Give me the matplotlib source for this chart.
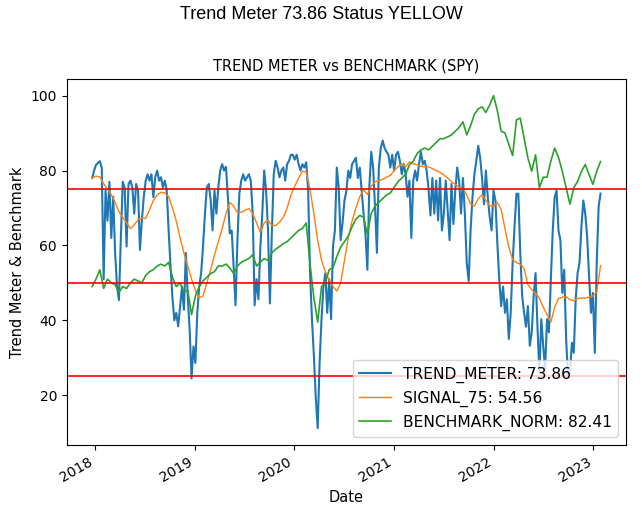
import matplotlib
matplotlib.use("Agg")
import matplotlib.pyplot as plt
import matplotlib.dates as mdates
import pandas as pd

# weekly dates (trend meter), every 2nd week for signal / benchmark
dates = pd.date_range("2017-12-22", periods=267, freq="7D")
dates2 = dates[::2]

trend_meter = [
    78, 80, 81.5, 82, 82.5, 80.8, 51, 74.7, 66.6, 77,
    62, 73, 58, 49, 45.4, 62, 77, 75.4, 59.7, 76.4,
    77.3, 75.5, 68.5, 76.4, 74.7, 58.8, 66.7, 72.9, 77.3, 79,
    77.3, 79, 72.9, 78.2, 80, 77.3, 78.2, 75.5, 77.3, 74.7,
    64, 54.4, 46, 40, 42, 38.4, 43.6, 49, 42.8, 58,
    46.5, 37.5, 24.5, 33, 28.6, 42, 49, 52.6, 59.7, 68.5,
    75.5, 76.4, 72, 64, 74.7, 68.5, 75.5, 80, 81.7, 80,
    81, 73, 63.2, 64, 54.4, 44, 61.4, 73.8, 77.3, 79,
    77.3, 78.2, 79, 77.3, 68.5, 44, 51, 45.6, 59.7, 68.5,
    80, 74.7, 64, 44.5, 63.2, 79, 82.6, 80.8, 78.2, 80,
    80.8, 77.3, 81.7, 82.6, 84.2, 84.2, 82.9, 84.2, 81.7, 80,
    81.7, 80.8, 82.2, 74.7, 52.6, 40.3, 30.6, 19.2, 11.2, 28.8,
    40.3, 49, 52.6, 42, 51, 40.3, 59.7, 64, 80.8, 75.4,
    61.4, 66, 72, 74.5, 80, 78, 81.7, 82.5, 83.4, 78,
    80.8, 74.7, 68.5, 63, 53.5, 75.5, 85, 80.8, 70.3, 58,
    80.8, 86, 88, 86, 85, 84.2, 80.8, 84.2, 80, 84.2,
    85, 82.6, 79, 81.7, 79, 73, 77.3, 62, 77.3, 80,
    77.3, 81.7, 85, 81.7, 82.6, 80, 75, 68, 78, 68.5,
    77.3, 66.7, 78, 64, 68.5, 77.3, 69.4, 61.4, 76.4, 65.7,
    74.7, 80.8, 77.3, 68.5, 78, 68.5, 55.3, 50.5, 64, 72.9,
    79, 82.6, 86.6, 83.5, 78, 71, 80, 72.9, 67.6, 64,
    74.7, 72, 60.6, 50.9, 43.8, 49, 42, 45.6, 35, 42,
    55.3, 65, 73.8, 73.8, 58, 46.5, 42, 38.3, 43.8, 33.2,
    36.8, 46.5, 52.6, 38.3, 26, 40.3, 33.2, 27, 40.3, 36.8,
    51, 64, 72.9, 74.7, 64, 61.4, 47.3, 53.5, 35, 24.4,
    26, 34, 31.3, 45.6, 52.6, 55.3, 65, 72, 68.5, 62.3,
    51.8, 42, 47.3, 31.3, 55.3, 70.3, 73.86,
]

signal_75 = [
    78, 78.5, 78.3, 76.5, 75, 73.5, 71.5, 69, 67.5, 66,
    64.5, 65.5, 66.8, 67.3, 67.2, 69.5, 72, 73.5, 74.2, 74,
    73, 70, 66.5, 62, 58, 54.5, 51, 48, 46, 46.5,
    50, 53.5, 57.5, 61, 64.5, 68.5, 71.5, 70.5, 68.8, 68.8,
    69.4, 69.8, 68.5, 66, 63.5, 66, 66.8, 65.3, 65.3, 66.2,
    67.5, 70, 73.5, 75.8, 78, 79.8, 79.6, 75, 68.4, 61.3,
    56, 53, 50.8, 49, 47.8, 50, 56, 62, 66.5, 70,
    73, 74.8, 73.6, 75.8, 77, 77.3, 77.6, 78.2, 78.7, 80,
    81, 81.8, 81, 82.3, 81.8, 81.5, 81.2, 81, 81, 80.5,
    80, 79.5, 78.8, 78, 77, 76.3, 75.5, 75.2, 73.5, 71,
    70.5, 72.5, 73.5, 72, 70.5, 70.5, 71.5, 69.5, 64.5, 59.5,
    56.2, 55.4, 55, 53.8, 49.5, 48.2, 47.2, 45.9, 43.5, 41.5,
    39.5, 43.5, 45.8, 46.2, 46.3, 45.5, 45.2, 45.8, 46, 45.9,
    46.2, 46.5, 47.5, 54.56,
]

benchmark_norm = [
    49, 51, 53.5, 48.5, 51, 50, 49.5, 47.5, 49, 48.5,
    50, 51, 50.5, 50, 52, 53, 53.5, 54.5, 55, 54.5,
    55.5, 51.5, 49, 50, 47.5, 48, 41.5, 46.5, 49, 50.5,
    51.5, 52.5, 53, 54.5, 54.5, 55, 54, 52.5, 54.5, 55.5,
    56, 56.5, 57.5, 54.5, 55.5, 56.5, 56, 58, 59, 59.7,
    60.5, 61, 62, 63, 64, 64.5, 66, 55, 46, 39.5,
    49, 50, 53.5, 54, 57, 59.5, 61, 62.5, 65, 67,
    68, 67.5, 63, 68.5, 70.5, 71.5, 72.5, 73.5, 74, 75.5,
    77, 78, 79, 81.5, 82.5, 84.5, 85.5, 86, 85.5, 86.5,
    87.5, 88.5, 88.5, 89, 89.5, 90.5, 91.5, 93, 89.5, 92,
    95, 96.5, 97, 95.5, 97.5, 100, 96, 90.5, 90, 87,
    84, 93.5, 94, 88.6, 83.3, 79.8, 84.2, 75.4, 78.2, 78.2,
    82.5, 86, 83.5, 79.8, 75.4, 71, 75.4, 77.1, 79.8, 81.6,
    78.9, 76.3, 79.8, 82.41,
]

levels = [75, 50, 25]

fig, ax = plt.subplots(figsize=(6.42, 5.13), dpi=100)
fig.subplots_adjust(left=0.104, right=0.975, top=0.846, bottom=0.133)

ax.plot(dates, trend_meter, color="#1f77b4", lw=1.5,
        label="TREND_METER: %.2f" % trend_meter[-1])
ax.plot(dates2, signal_75, color="#ff7f0e", lw=1.0,
        label="SIGNAL_75: %.2f" % signal_75[-1])
ax.plot(dates2, benchmark_norm, color="#2ca02c", lw=1.2,
        label="BENCHMARK_NORM: %.2f" % benchmark_norm[-1])
for lv in levels:
    ax.axhline(lv, color="red", lw=1.2)

ax.set_title("TREND METER vs BENCHMARK (SPY)", fontsize=10.5)
ax.set_ylabel("Trend Meter & Benchmark", fontsize=10.5)
ax.set_xlabel("Date", fontsize=10.5)
ax.xaxis.set_major_locator(mdates.YearLocator())
ax.xaxis.set_major_formatter(mdates.DateFormatter("%Y"))
ax.tick_params(labelsize=10)
for lab in ax.get_xticklabels():
    lab.set_rotation(30)
    lab.set_ha("right")
ax.legend(loc="lower right", fontsize=11.2)

fig.suptitle("Trend Meter 73.86 Status YELLOW", fontsize=13,
             family=["Liberation Sans", "DejaVu Sans"], y=0.988)

fig.savefig("out.png", dpi=100)
